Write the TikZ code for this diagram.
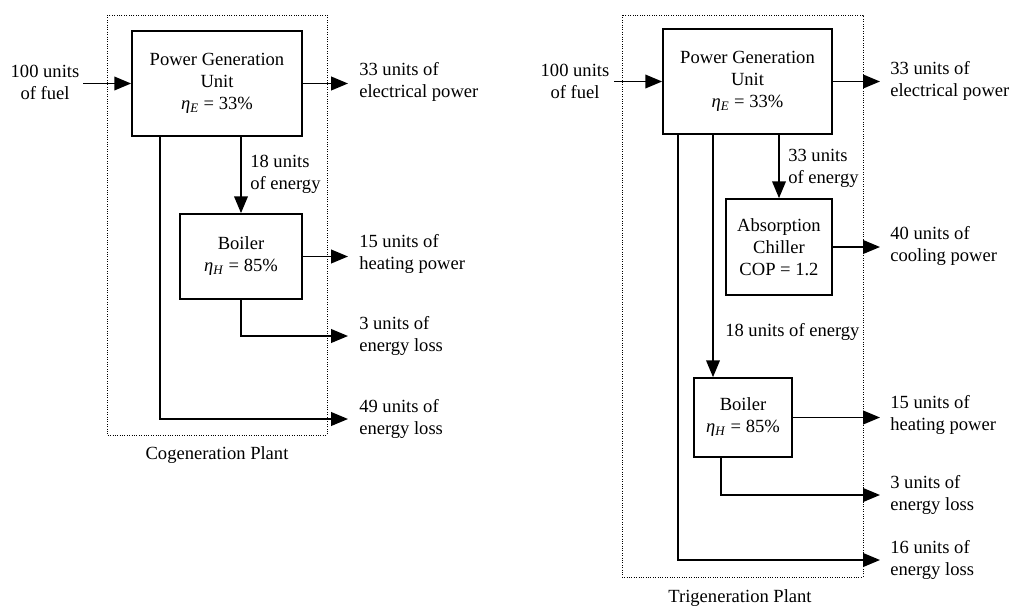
\documentclass[tikz,border=0pt]{standalone}
\usepackage{fontspec}
\setmainfont{Liberation Serif}
\usetikzlibrary{arrows.meta}

\newcommand{\effsub}[1]{\textit{η}\textsubscript{\textit{#1}}}

\tikzset{
  every node/.style={font=\fontsize{13.2}{15.6}\selectfont},
  unitbox/.style n args={2}{draw, line width=1.2pt, align=center, inner sep=0pt,
    minimum width=#1, minimum height=#2},
  plant/.style={draw, densely dotted, line width=0.7pt},
  flow/.style={line width=1.2pt, -{Triangle[length=4.2mm,width=3.4mm]}},
  lbl/.style={align=left, anchor=west, inner sep=0pt},
}

\begin{document}
\begin{tikzpicture}[x=0.025cm,y=-0.025cm]
\useasboundingbox (0,0) rectangle (1010,605);

% cogeneration
\draw[plant] (107,15) rectangle (327,435);
\node[unitbox={4.25cm}{2.625cm}] (co-pgu) at (217,83.5) {Power Generation\\Unit\\\effsub{E} = 33\%};
\node[unitbox={3.05cm}{2.125cm}] (co-boiler) at (241,256.5) {Boiler\\\effsub{H} = 85\%};
\node[align=center] (co-fuel) at (45,82) {100 units\\of fuel};
\coordinate (co-in) at (83,83.5);
\coordinate (co-tip) at (348,0);
\coordinate (co-loss) at (160,0);
\node[lbl] (co-elec) at (359,82) {33 units of\\electrical power};
\node[lbl] (co-mid) at (250,174) {18 units\\of energy};
\node[lbl] (co-heat) at (359,254) {15 units of\\heating power};
\node[lbl] (co-bloss) at (359,336) {3 units of\\energy loss};
\node[lbl] (co-ploss) at (359,419) {49 units of\\energy loss};
\node (co-name) at (217,455) {Cogeneration Plant};

\draw[flow] (co-in) -- (co-pgu.west);
\draw[flow] (co-pgu.east) -- (co-pgu.east -| co-tip);
\draw[flow] (co-pgu.south -| co-boiler) -- (co-boiler.north);
\draw[flow] (co-boiler.east) -- (co-boiler.east -| co-tip);
\draw[flow] (co-boiler.south) |- (co-tip |- co-bloss);
\draw[flow] (co-pgu.south -| co-loss) |- (co-tip |- co-ploss);

% trigeneration
\draw[plant] (622,15) rectangle (863,577);
\node[unitbox={4.225cm}{2.625cm}] (tri-pgu) at (747.5,81.5) {Power Generation\\Unit\\\effsub{E} = 33\%};
\node[unitbox={2.65cm}{2.4cm}] (tri-chiller) at (779,247) {Absorption\\Chiller\\COP = 1.2};
\node[unitbox={2.45cm}{1.975cm}] (tri-boiler) at (743,417.5) {Boiler\\\effsub{H} = 85\%};
\node[align=center] (tri-fuel) at (575,81) {100 units\\of fuel};
\coordinate (tri-in) at (614,81.5);
\coordinate (tri-tip) at (880,0);
\coordinate (tri-loss) at (678,0);
\coordinate (tri-feed) at (713,0);
\coordinate (tri-drain) at (721,0);
\node[lbl] (tri-elec) at (890,81) {33 units of\\electrical power};
\node[lbl] (tri-mid) at (788,168) {33 units\\of energy};
\node[lbl] (tri-cool) at (890,246) {40 units of\\cooling power};
\node[lbl] (tri-low) at (725,332) {18 units of energy};
\node[lbl] (tri-heat) at (890,415) {15 units of\\heating power};
\node[lbl] (tri-bloss) at (890,495) {3 units of\\energy loss};
\node[lbl] (tri-ploss) at (890,560) {16 units of\\energy loss};
\node (tri-name) at (740,598) {Trigeneration Plant};

\draw[flow] (tri-in) -- (tri-pgu.west);
\draw[flow] (tri-pgu.east) -- (tri-pgu.east -| tri-tip);
\draw[flow] (tri-pgu.south -| tri-chiller) -- (tri-chiller.north);
\draw[flow] (tri-chiller.east) -- (tri-chiller.east -| tri-tip);
\draw[flow] (tri-pgu.south -| tri-feed) -- (tri-boiler.north -| tri-feed);
\draw[flow] (tri-boiler.east) -- (tri-boiler.east -| tri-tip);
\draw[flow] (tri-boiler.south -| tri-drain) |- (tri-tip |- tri-bloss);
\draw[flow] (tri-pgu.south -| tri-loss) |- (tri-tip |- tri-ploss);

\end{tikzpicture}
\end{document}
